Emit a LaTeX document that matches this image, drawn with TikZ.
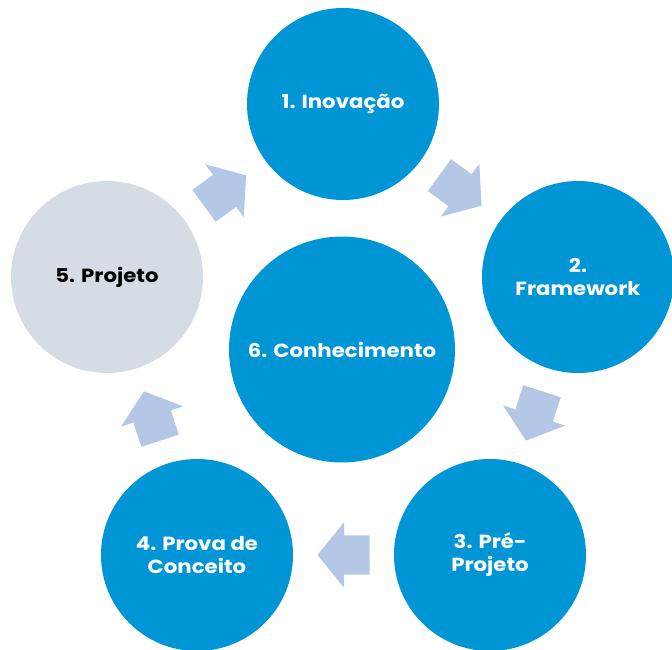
\documentclass[tikz,border=0pt]{standalone}
\usepackage{fontspec}
\setmainfont{Poppins}[FakeStretch = 1.12]
\usetikzlibrary{shapes.arrows,calc}

\definecolor{stageblue}{HTML}{0096D6}
\definecolor{stagegrey}{HTML}{D6DCE5}
\definecolor{arrowblue}{HTML}{B4C7E7}

\tikzset{
    stage/.style = {circle, fill = stageblue, minimum size = 192pt, inner sep = 0pt,
        align = center, text = white, font = \bfseries\fontsize{19}{23}\selectfont},
    cyclearrow/.style = {single arrow, fill = arrowblue, draw = none,
        minimum height = 52pt, inner xsep = 0pt, inner ysep = 19.5pt,
        single arrow head extend = 13pt, single arrow tip angle = 102}
}

\begin{document}
\begin{tikzpicture}[x = 1pt, y = 1pt]
        \useasboundingbox (0, 0) rectangle (672, -650);

        % Nodes
        \node [stage] (inovacao) at (343, -104) {1. Inovação};
        \node [stage] (framework) at (578, -277) {2.\\Framework};
        \node [stage] (preprojeto) at (490, -555) {3. Pré-\\Projeto};
        \node [stage] (prova) at (197, -555) {4. Prova de\\Conceito};
        \node [stage, fill = stagegrey, text = black] (projeto) at (107, -277) {5. Projeto};
        \node [stage, minimum size = 226pt] (conhecimento) at (342, -349.5) {6. Conhecimento};

        % Arrows
        \node [cyclearrow, rotate = -36] (a12) at ($(inovacao)!0.5!(framework)!8pt!(inovacao)$) {};
        \node [cyclearrow, rotate = -108] (a23) at ($(framework)!0.5!(preprojeto)!8pt!(framework)$) {};
        \node [cyclearrow, rotate = 180] (a34) at ($(preprojeto)!0.5!(prova)!8pt!(preprojeto)$) {};
        \node [cyclearrow, rotate = 108] (a45) at ($(prova)!0.5!(projeto)!8pt!(prova)$) {};
        \node [cyclearrow, rotate = 36] (a51) at ($(projeto)!0.5!(inovacao)!8pt!(projeto)$) {};

    \end{tikzpicture}
\end{document}
